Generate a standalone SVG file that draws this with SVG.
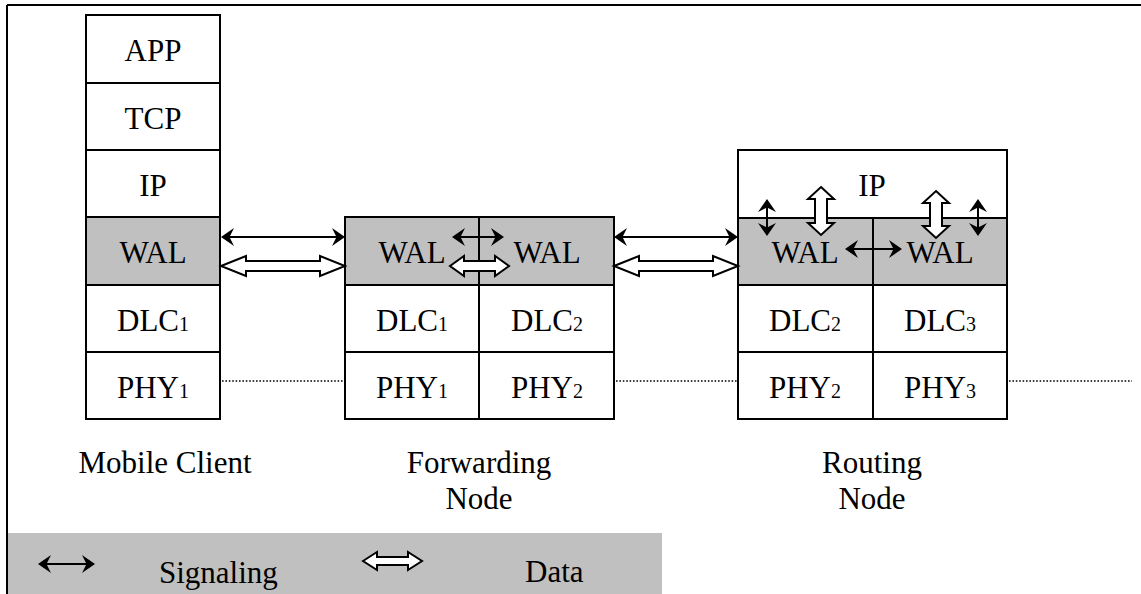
<svg xmlns="http://www.w3.org/2000/svg" width="1141" height="594" viewBox="0 0 1141 594">
  <style>
    .cell { stroke: #000; stroke-width: 2; fill: #fff; }
    .wal { fill: #c0c0c0; }
    .div { stroke: #000; stroke-width: 2; fill: none; }
    .lbl { font-family: "Liberation Serif", "Times New Roman", serif; font-size: 31px; fill: #000; text-anchor: middle; }
    .sub { font-size: 20px; }
    .cap { font-family: "Liberation Serif", "Times New Roman", serif; font-size: 31px; fill: #000; text-anchor: middle; }
    .leg { font-family: "Liberation Serif", "Times New Roman", serif; font-size: 31px; fill: #000; }
    .sig { stroke: #000; stroke-width: 2; fill: none; marker-start: url(#head); marker-end: url(#head); }
    .data { stroke: #000; stroke-width: 2; fill: #fff; stroke-linejoin: miter; }
    .link { stroke: #000; stroke-width: 1.4; stroke-dasharray: 1.6 1.8; fill: none; }
  </style>
  <defs>
    <marker id="head" markerUnits="userSpaceOnUse" markerWidth="14" markerHeight="19" refX="6" refY="9" orient="auto-start-reverse" overflow="visible">
      <path d="M13,9 L0,0 L4.5,9 L0,18 Z" fill="#000"/>
    </marker>
  </defs>

  <!-- outer frame: top and left edges -->
  <path d="M7,5 H1141 M7,5 V594" stroke="#000" stroke-width="2" fill="none"/>

  <!-- Mobile Client stack -->
  <g id="mobile-client">
    <rect class="cell" x="86" y="15" width="134" height="68"/>
    <rect class="cell" x="86" y="83" width="134" height="67"/>
    <rect class="cell" x="86" y="150" width="134" height="67"/>
    <rect class="cell wal" x="86" y="217" width="134" height="68"/>
    <rect class="cell" x="86" y="285" width="134" height="67"/>
    <rect class="cell" x="86" y="352" width="134" height="67"/>
    <text class="lbl" x="153" y="61">APP</text>
    <text class="lbl" x="153" y="129">TCP</text>
    <text class="lbl" x="153" y="196">IP</text>
    <text class="lbl" x="153" y="263">WAL</text>
    <text class="lbl" x="153" y="331">DLC<tspan class="sub">1</tspan></text>
    <text class="lbl" x="153" y="398">PHY<tspan class="sub">1</tspan></text>
    <text class="cap" x="165" y="473">Mobile Client</text>
  </g>

  <!-- Forwarding Node stack -->
  <g id="forwarding-node">
    <rect class="cell wal" x="345" y="217" width="269" height="68"/>
    <rect class="cell" x="345" y="285" width="269" height="67"/>
    <rect class="cell" x="345" y="352" width="269" height="67"/>
    <line class="div" x1="479" y1="217" x2="479" y2="419"/>
    <text class="lbl" x="412" y="263">WAL</text>
    <text class="lbl" x="547" y="263">WAL</text>
    <text class="lbl" x="412" y="331">DLC<tspan class="sub">1</tspan></text>
    <text class="lbl" x="547" y="331">DLC<tspan class="sub">2</tspan></text>
    <text class="lbl" x="412" y="398">PHY<tspan class="sub">1</tspan></text>
    <text class="lbl" x="547" y="398">PHY<tspan class="sub">2</tspan></text>
    <text class="cap" x="479" y="473">Forwarding</text>
    <text class="cap" x="479" y="509">Node</text>
  </g>

  <!-- Routing Node stack -->
  <g id="routing-node">
    <rect class="cell" x="738" y="150" width="269" height="68"/>
    <rect class="cell wal" x="738" y="218" width="269" height="67"/>
    <rect class="cell" x="738" y="285" width="269" height="67"/>
    <rect class="cell" x="738" y="352" width="269" height="67"/>
    <line class="div" x1="873" y1="218" x2="873" y2="419"/>
    <text class="lbl" x="872" y="196">IP</text>
    <text class="lbl" x="805" y="263">WAL</text>
    <text class="lbl" x="940" y="263">WAL</text>
    <text class="lbl" x="805" y="331">DLC<tspan class="sub">2</tspan></text>
    <text class="lbl" x="940" y="331">DLC<tspan class="sub">3</tspan></text>
    <text class="lbl" x="805" y="398">PHY<tspan class="sub">2</tspan></text>
    <text class="lbl" x="940" y="398">PHY<tspan class="sub">3</tspan></text>
    <text class="cap" x="872" y="473">Routing</text>
    <text class="cap" x="872" y="509">Node</text>
  </g>

  <!-- Connectors: signaling (thin double arrows) and data (hollow double arrows) -->
  <g id="connectors">
    <!-- physical links -->
    <line class="link" x1="222" y1="381" x2="344" y2="381"/>
    <line class="link" x1="616" y1="381" x2="737" y2="381"/>
    <line class="link" x1="1009" y1="381" x2="1132" y2="381"/>

    <!-- Mobile Client <-> Forwarding Node -->
    <line class="sig" x1="228" y1="237" x2="338" y2="237"/>
    <polygon class="data" points="221,266 246,256 246,261 320,261 320,256 345,266 320,276 320,271 246,271 246,276"/>

    <!-- Forwarding Node <-> Routing Node -->
    <line class="sig" x1="621" y1="237" x2="731" y2="237"/>
    <polygon class="data" points="614,266 639,256 639,261 713,261 713,256 738,266 713,276 713,271 639,271 639,276"/>

    <!-- inside Forwarding Node -->
    <line class="sig" x1="459" y1="237" x2="497" y2="237"/>
    <polygon class="data" points="450,266 464,256 464,261 495,261 495,256 509,266 495,276 495,271 464,271 464,276"/>

    <!-- inside Routing Node -->
    <line class="sig" x1="852" y1="249" x2="895" y2="249"/>
    <line class="sig" x1="767" y1="206" x2="767" y2="229"/>
    <line class="sig" x1="978" y1="206" x2="978" y2="229"/>
    <polygon class="data" points="821,187 834,199 827,199 827,223 834,223 821,235 808,223 815,223 815,199 808,199"/>
    <polygon class="data" points="936,191 949,203 942,203 942,226 949,226 936,238 923,226 930,226 930,203 923,203"/>
  </g>

  <!-- Legend -->
  <g id="legend">
    <rect x="8" y="533" width="654" height="61" fill="#c0c0c0"/>
    <line class="sig" x1="45" y1="564" x2="88" y2="564"/>
    <text class="leg" x="159" y="583">Signaling</text>
    <polygon class="data" points="363,561 377,552 377,557 408,557 408,552 422,561 408,570 408,565 377,565 377,570"/>
    <text class="leg" x="525" y="582">Data</text>
  </g>
</svg>
